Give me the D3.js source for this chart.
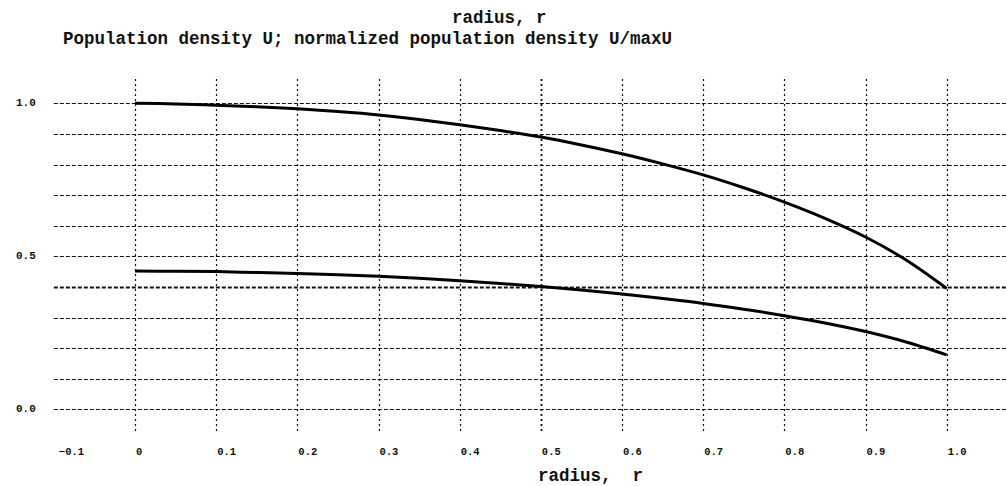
<!DOCTYPE html>
<html>
<head>
<meta charset="utf-8">
<script src="https://cdn.jsdelivr.net/npm/d3@7"></script>
<style>
  body { margin: 0; background: #fff; }
  svg text { font-family: "Liberation Mono", "DejaVu Sans Mono", monospace; fill: #111; }
</style>
</head>
<body>
<div id="chart"></div>
<script>
// radius values sampled along the curves
const radius = [0, 0.05, 0.1, 0.15, 0.2, 0.25, 0.3, 0.35, 0.4, 0.45, 0.5,
  0.55, 0.6, 0.65, 0.7, 0.75, 0.8, 0.85, 0.9, 0.95, 1.0];

// normalized population density U/maxU
const normDensity = [1.000, 0.998, 0.994, 0.989, 0.982, 0.973, 0.962, 0.947, 0.930, 0.911, 0.890,
  0.864, 0.835, 0.802, 0.766, 0.724, 0.677, 0.624, 0.563, 0.488, 0.395];

// population density U
const density = [0.452, 0.451, 0.450, 0.447, 0.444, 0.440, 0.435, 0.428, 0.420, 0.411, 0.401,
  0.390, 0.377, 0.362, 0.346, 0.327, 0.306, 0.282, 0.254, 0.220, 0.178];

const xTicks = [-0.1, 0, 0.1, 0.2, 0.3, 0.4, 0.5, 0.6, 0.7, 0.8, 0.9, 1.0];
const xGrid = [0, 0.1, 0.2, 0.3, 0.4, 0.5, 0.6, 0.7, 0.8, 0.9, 1.0];
const yGrid = [0, 0.1, 0.2, 0.3, 0.4, 0.5, 0.6, 0.7, 0.8, 0.9, 1.0];
const yTicks = [0, 0.5, 1.0];

const width = 1007, height = 486;

const x = d3.scaleLinear().domain([0, 1]).range([135, 946.7]);
const y = d3.scaleLinear().domain([0, 1]).range([409.3, 103.3]);

const svg = d3.select('#chart').append('svg').
  attr('width', width).
  attr('height', height);

// titles
svg.append('text').attr('x', 452).attr('y', 23).
  style('font-size', '17.5px').style('font-weight', 'bold').
  attr('xml:space', 'preserve').text('radius, r');
svg.append('text').attr('x', 63).attr('y', 44).
  style('font-size', '17.5px').style('font-weight', 'bold').
  text('Population density U; normalized population density U/maxU');

// horizontal grid
svg.append('g').selectAll('line').
  data(yGrid).
  enter().append('line').
    attr('x1', x(-0.1)).
    attr('x2', width).
    attr('y1', d => Math.round(y(d)) + 0.5).
    attr('y2', d => Math.round(y(d)) + 0.5).
    attr('stroke', '#111').
    attr('stroke-width', d => Math.abs(d - 0.4) < 1e-9 ? 1.8 : 1).
    attr('stroke-dasharray', '4,2');

// vertical grid
svg.append('g').selectAll('line').
  data(xGrid).
  enter().append('line').
    attr('x1', d => Math.round(x(d)) + 0.5).
    attr('x2', d => Math.round(x(d)) + 0.5).
    attr('y1', 79).
    attr('y2', 432).
    attr('stroke', '#111').
    attr('stroke-width', d => Math.abs(d - 0.5) < 1e-9 ? 1.8 : 1.2).
    attr('stroke-dasharray', '2,3');

// tick labels
svg.append('g').selectAll('text').
  data(xTicks).
  enter().append('text').
    attr('x', d => x(d) + (d < 0 ? 5 : 1)).
    attr('y', 455).
    style('font-size', '10.5px').style('font-weight', 'bold').
    text(d => d === 0 ? '0' : d3.format('.1f')(d));

svg.append('g').selectAll('text').
  data(yTicks).
  enter().append('text').
    attr('x', 16).
    attr('y', d => y(d) + 3).
    style('font-size', '11px').style('font-weight', 'bold').
    text(d => d3.format('.1f')(d));

// x axis title
svg.append('text').attr('x', 538).attr('y', 481).
  style('font-size', '17.5px').style('font-weight', 'bold').
  attr('xml:space', 'preserve').text('radius,  r');

// curves
const line = d3.line().
  x(d => x(d[0])).
  y(d => y(d[1])).
  curve(d3.curveCatmullRom);

[normDensity, density].forEach((series) => {
  svg.append('path').
    datum(radius.map((r, i) => [r, series[i]])).
    attr('fill', 'none').
    attr('stroke', '#000').
    attr('stroke-width', 3).
    attr('d', line);
});
</script>
</body>
</html>
